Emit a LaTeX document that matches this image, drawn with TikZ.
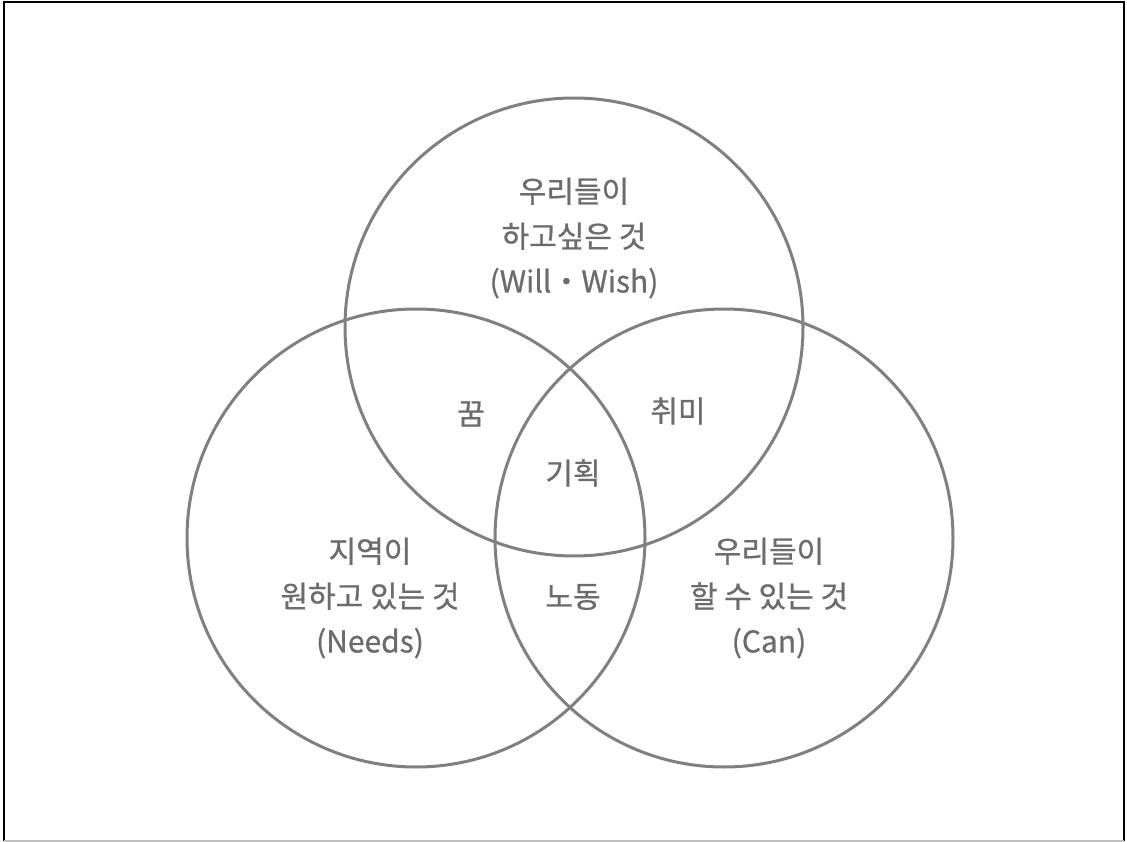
\documentclass[tikz,border=0pt]{standalone}
\usepackage{fontspec}
\setmainfont{Noto Sans CJK KR}
\newfontfamily\lblfont[FakeBold=0.8]{Noto Sans CJK KR}
\definecolor{ringgray}{RGB}{128,128,128}
\definecolor{textgray}{RGB}{108,108,108}
\begin{document}
\begin{tikzpicture}[x=1pt,y=-1pt,
  ring/.style={draw=ringgray,line width=3pt},
  lbl/.style={text=textgray,align=center,inner sep=0pt,font=\lblfont\fontsize{30}{45}\selectfont}]
\useasboundingbox (0,0) rectangle (1127,842);
\fill[white] (0,0) rectangle (1127,842);
\draw[black,line width=2.5pt] (4,841) -- (4,2) -- (1124,2) -- (1124,841);
\draw[black!25,line width=1.5pt] (4,841) -- (1124,841);
% circles
\node[ring,circle,minimum size=458pt,inner sep=0pt] (will) at (574,327) {};
\node[ring,circle,minimum size=458pt,inner sep=0pt] (needs) at (416,538) {};
\node[ring,circle,minimum size=458pt,inner sep=0pt] (can) at (724,538) {};
% labels
\node[lbl] (tW) at (574,238) {우리들이\\하고싶은 것\\(Will・Wish)};
\node[lbl] (tN) at (370,598) {지역이\\원하고 있는 것\\(Needs)};
\node[lbl] (tC) at (769,598) {우리들이\\할 수 있는 것\\(Can)};
\node[lbl] (dream) at (471,414) {꿈};
\node[lbl] (hobby) at (678,411) {취미};
\node[lbl] (plan) at (573,473) {기획};
\node[lbl] (labor) at (573,597) {노동};
\end{tikzpicture}
\end{document}
